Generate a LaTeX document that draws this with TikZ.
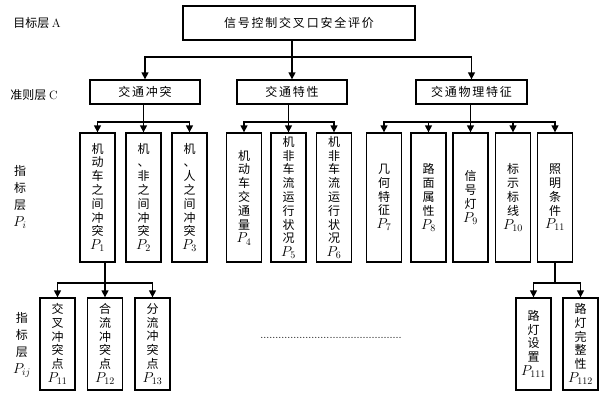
\documentclass[tikz,border=0pt]{standalone}
\usepackage{fontspec}
\newfontfamily\cjk{Noto Sans CJK SC}
\usetikzlibrary{arrows.meta}

\newcommand\Pn[1]{{\fontsize{14}{14}\selectfont$P_{#1}$}}

\tikzset{
  box/.style={draw, line width=1.3pt, inner sep=0pt, font=\cjk\fontsize{12}{13.8}\selectfont},
  goalbox/.style={box, minimum width=232pt, minimum height=34pt},
  critbox/.style={box, minimum width=110pt, minimum height=24pt},
  indbox/.style={box, minimum width=35pt, minimum height=129pt, align=center},
  subbox/.style={box, minimum width=35pt, minimum height=92pt, align=center},
  wire/.style={line width=1.3pt},
  arr/.style={wire, -{Triangle[width=7pt,length=7pt]}},
  fork/.style={wire, {Triangle[width=7pt,length=7pt]}-{Triangle[width=7pt,length=7pt]}},
  layer/.style={font=\cjk\fontsize{12}{17}\selectfont, align=center},
}

\begin{document}
\begin{tikzpicture}[x=1pt, y=-1pt]
  \useasboundingbox (0,0) rectangle (606,402);

  % 目标层
  \node[goalbox] (goal) at (299,23) {\addfontfeature{LetterSpace=15}信号控制交叉口安全评价};

  % 准则层
  \node[critbox] (conflict) at (145,92) {\addfontfeature{LetterSpace=15}交通冲突};
  \node[critbox] (traffic) at (292,92) {\addfontfeature{LetterSpace=15}交通特性};
  \node[critbox, minimum width=111pt] (physical) at (471.5,92) {\addfontfeature{LetterSpace=15}交通物理特征};

  % 指标层 P_i
  \node[indbox] (vehicle) at (97.5,197.5) {机\\动\\车\\之\\间\\冲\\突\\\Pn{1}};
  \node[indbox] (mixed) at (143.5,197.5) {机\\、\\非\\之\\间\\冲\\突\\\Pn{2}};
  \node[indbox] (walker) at (189.5,197.5) {机\\、\\人\\之\\间\\冲\\突\\\Pn{3}};
  \node[indbox] (volume) at (244,197.5) {机\\动\\车\\交\\通\\量\\\Pn{4}};
  \node[indbox] (flowA) at (288.5,197.5) {机\\非\\车\\流\\运\\行\\状\\况\\\Pn{5}};
  \node[indbox] (flowB) at (334,197.5) {机\\非\\车\\流\\运\\行\\状\\况\\\Pn{6}};
  \node[indbox] (geometry) at (384,197.5) {几\\何\\特\\征\\\Pn{7}};
  \node[indbox] (surface) at (428.5,197.5) {路\\面\\属\\性\\\Pn{8}};
  \node[indbox] (signal) at (470.5,197.5) {信\\号\\灯\\\Pn{9}};
  \node[indbox] (marking) at (513,197.5) {标\\示\\标\\线\\\Pn{10}};
  \node[indbox] (lighting) at (555,197.5) {照\\明\\条\\件\\\Pn{11}};

  % 指标层 P_ij
  \node[subbox] (crossing) at (57.5,344) {交\\叉\\冲\\突\\点\\\Pn{11}};
  \node[subbox] (merging) at (105,344) {合\\流\\冲\\突\\点\\\Pn{12}};
  \node[subbox] (diverging) at (152.5,344) {分\\流\\冲\\突\\点\\\Pn{13}};
  \node[subbox] (lampset) at (533.5,344) {路\\灯\\设\\置\\\Pn{111}};
  \node[subbox] (lampok) at (580.5,344) {路\\灯\\完\\整\\性\\\Pn{112}};

  % 层名
  \node[layer] (layerA) at (37,23) {目标层 {\rmfamily A}};
  \node[layer] (layerC) at (34,95) {准则层 {\rmfamily C}};
  \node[layer] (layerPi) at (20,197) {指\\标\\层\\\Pn{i}};
  \node[layer] (layerPij) at (22,345) {指\\标\\层\\\Pn{ij}};

  \node[font=\fontsize{10.8}{12}\selectfont] (more) at (331,338) {...............................................};

  % 连线
  \coordinate (busA) at (0,57);
  \coordinate (busC) at (0,122);
  \coordinate (busD) at (0,283);

  \draw[arr] (goal.south -| traffic) -- (traffic.north);
  \draw[fork] (conflict.north) -- (conflict |- busA) -- (physical |- busA) -- (physical.north);

  \draw[arr] (conflict.south -| mixed) -- (mixed.north);
  \draw[fork] (vehicle.north) -- (vehicle |- busC) -- (walker |- busC) -- (walker.north);
  \draw[arr] (traffic.south -| flowA) -- (flowA.north);
  \draw[fork] (volume.north) -- (volume |- busC) -- (flowB |- busC) -- (flowB.north);
  \draw[arr] (physical.south -| signal) -- (signal.north);
  \draw[fork] (geometry.north) -- (geometry |- busC) -- (lighting |- busC) -- (lighting.north);
  \foreach \n in {surface, marking}
    \draw[arr] (\n |- busC) -- (\n.north);

  \draw[arr] (vehicle.south -| merging) -- (merging.north);
  \draw[fork] (crossing.north) -- (crossing |- busD) -- (diverging |- busD) -- (diverging.north);
  \draw[wire] (lighting.south) -- (lighting |- busD);
  \draw[fork] (lampset.north) -- (lampset |- busD) -- (lampok |- busD) -- (lampok.north);

\end{tikzpicture}
\end{document}
